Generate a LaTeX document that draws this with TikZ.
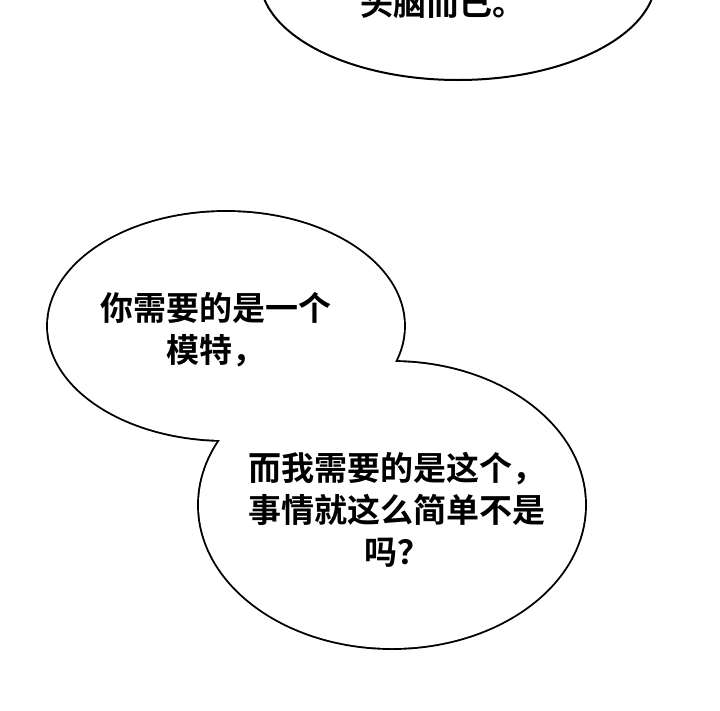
\documentclass[tikz,border=0pt]{standalone}
\usepackage{fontspec}
\newfontfamily\cjk{Noto Sans CJK SC}[BoldFont={* Bold}]
\usepackage{tikz}

\begin{document}
\begin{tikzpicture}[x=1pt,y=-1pt,
  bubble/.style={draw=black,line width=3.8pt},
  talk/.style={font=\cjk\bfseries\fontsize{33}{42}\selectfont,align=center,inner sep=0pt}]
%%%%%%%%%%%%%%%%%%Page Frame%%%%%%%%%%%%%%%
\useasboundingbox (0,0) rectangle (720,710);
\clip (0,0) rectangle (720,710);

%%%%%%%%%%%%%%Top Bubble (cut off)%%%%%%%%%%%%%%
\draw[line width=2pt,fill=white] (458,-22) ellipse [x radius=198,y radius=102];
\node[talk] (topline) at (443,3) {头脑而已。};

%%%%%%%%%%%%%%Joined Bubble: outlines first%%%%%%%%%%%%%%
\draw[bubble] (226,326) ellipse [x radius=178,y radius=114];
\draw[bubble] (392,505) ellipse [x radius=193,y radius=143];
%%%%%%%%%%%%%%Joined Bubble: then the white inside%%%%%%%%%%%%%%
\fill[white] (226,326) ellipse [x radius=178,y radius=114];
\fill[white] (392,505) ellipse [x radius=193,y radius=143];

%%%%%%%%%%%%%%Texts%%%%%%%%%%%%%%
\node[talk] (modeltext) at (216,330) {你需要的是一个\\模特，};
\node[talk] (simpletext) at (397,510) {而我需要的是这个，\\事情就这么简单不是\\吗？};

\end{tikzpicture}
\end{document}
